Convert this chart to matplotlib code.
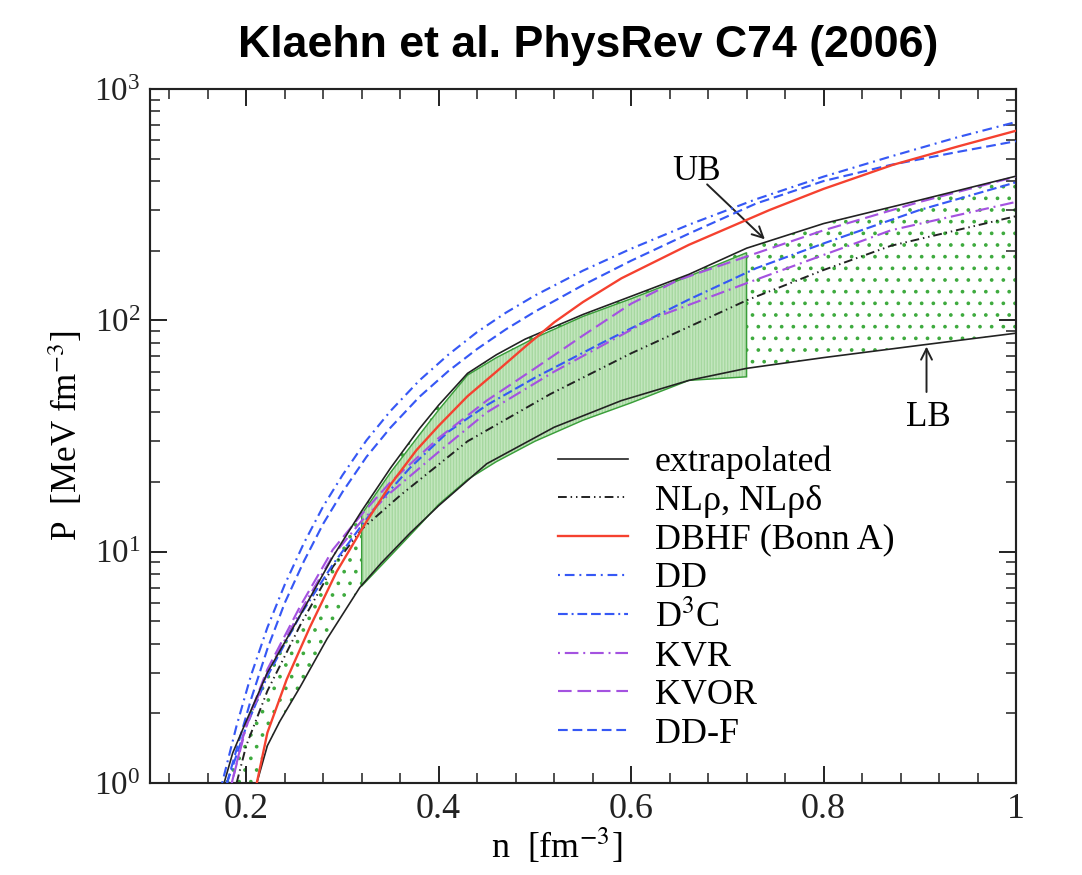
import numpy as np
import matplotlib
matplotlib.use('Agg')
import matplotlib.pyplot as plt
from matplotlib.ticker import MultipleLocator, FuncFormatter, LogLocator, NullFormatter

# data (n in fm^-3, P in MeV fm^-3)
ub_n = [0.177, 0.186, 0.20, 0.222, 0.256, 0.29, 0.32, 0.35, 0.38, 0.40, 0.43, 0.46, 0.49, 0.55, 0.60, 0.66, 0.72, 0.80, 0.90, 1.00]
ub_p = [1.0, 1.35, 1.85, 3.0, 5.3, 9.5, 15.0, 23, 34, 43, 59, 71, 83, 106, 127, 158, 205, 262, 331, 420]

lb_n = [0.211, 0.222, 0.235, 0.256, 0.284, 0.318, 0.34, 0.37, 0.40, 0.45, 0.52, 0.59, 0.66, 0.72, 0.80, 0.90, 1.00]
lb_p = [1.0, 1.45, 1.85, 2.6, 4.2, 7.0, 8.9, 12.0, 15.8, 24, 34.5, 45, 55, 62, 69, 78, 88]

flow_n = [0.32, 0.35, 0.38, 0.40, 0.43, 0.46, 0.50, 0.55, 0.60, 0.66, 0.72]
flow_lo = [7.1, 9.6, 13.0, 16.0, 20.5, 24.5, 30, 37, 44, 55, 57]
flow_hi = [14.5, 22, 32, 41, 58, 69, 84, 104, 124, 155, 196]

nl_n = [0.19, 0.20, 0.222, 0.256, 0.29, 0.32, 0.36, 0.43, 0.516, 0.60, 0.72, 0.80, 0.87, 1.00]
nl_p = [1, 1.45, 2.5, 4.8, 8.6, 12.5, 17.5, 30, 48, 72, 122, 165, 210, 282]

dbhf_n = [0.211, 0.222, 0.242, 0.266, 0.294, 0.325, 0.35, 0.377, 0.40, 0.43, 0.46, 0.49, 0.52, 0.55, 0.59, 0.66, 0.744, 0.80, 0.872, 0.94, 1.00]
dbhf_p = [1.0, 1.65, 2.8, 4.7, 8.2, 13.5, 19.5, 27.5, 35, 47, 60, 77, 98, 120, 152, 212, 300, 370, 470, 565, 660]

dd_n = [0.175, 0.19, 0.205, 0.222, 0.24, 0.26, 0.28, 0.30, 0.325, 0.35, 0.38, 0.41, 0.44, 0.47, 0.50, 0.55, 0.60, 0.66, 0.73, 0.80, 0.87, 0.94, 1.00]
dd_p = [1, 1.77, 2.92, 4.7, 7.2, 10.9, 15.7, 21.4, 30.3, 40.6, 55, 71, 89, 108, 128, 164, 204, 259, 334, 418, 511, 620, 720]

ddf_n = [0.18, 0.19, 0.205, 0.222, 0.24, 0.26, 0.28, 0.30, 0.325, 0.35, 0.38, 0.41, 0.44, 0.47, 0.50, 0.55, 0.60, 0.66, 0.73, 0.80, 0.87, 0.94, 1.00]
ddf_p = [1, 1.4, 2.3, 3.8, 6.0, 9.1, 13.2, 18.1, 25.7, 34.4, 46.7, 60.3, 75.2, 91.5, 109, 142, 181, 237, 320, 400, 470, 535, 595]

d3c_n = [0.18, 0.20, 0.222, 0.256, 0.29, 0.32, 0.342, 0.37, 0.41, 0.45, 0.50, 0.57, 0.66, 0.73, 0.80, 0.90, 1.00]
d3c_p = [1, 1.75, 2.9, 5.3, 8.8, 13.0, 17, 23, 33, 43, 56.5, 80, 123, 168, 215, 300, 395]

kvr_n = [0.185, 0.20, 0.222, 0.256, 0.29, 0.32, 0.35, 0.40, 0.45, 0.52, 0.62, 0.73, 0.87, 1.00]
kvr_p = [1, 1.75, 3.0, 5.5, 9.6, 13.6, 18, 27, 40, 60, 101, 150, 245, 325]

kvor_n = [0.185, 0.20, 0.222, 0.256, 0.29, 0.32, 0.35, 0.40, 0.45, 0.50, 0.55, 0.60, 0.65, 0.73, 0.80, 0.90, 1.00]
kvor_p = [1, 1.8, 3.1, 5.8, 10.2, 14.5, 20, 31, 45, 62, 86, 118, 150, 195, 245, 325, 418]

labels = ['extrapolated', 'NL\u03c1, NL\u03c1\u03b4', 'DBHF (Bonn A)', 'DD', 'D$^{3}$C', 'KVR', 'KVOR', 'DD-F']

# annotation positions (text, arrow tail, arrow tip)
ub_text, ub_tail, ub_tip = (0.668, 441), (0.679, 387), (0.739, 224)
lb_text, lb_tail, lb_tip = (0.909, 38), (0.907, 49), (0.907, 77)

plt.rcParams['font.family'] = ['Liberation Serif', 'DejaVu Serif']
plt.rcParams['mathtext.fontset'] = 'stix'
plt.rcParams['lines.scale_dashes'] = False
plt.rcParams['hatch.linewidth'] = 1.4

DPI = 70
fig = plt.figure(figsize=(1082 / DPI, 875 / DPI), dpi=DPI)
ax = fig.add_axes([150 / 1082, 92 / 875, 866 / 1082, 694 / 875])

blue = '#3658f5'
purple = '#a452e0'
red = '#f5412f'
dotgreen = '#3daa3d'

# dotted band between the extrapolated bounds
band_x = np.r_[ub_n, lb_n[::-1]]
band_y = np.r_[ub_p, lb_p[::-1]]
ax.fill(band_x, band_y, facecolor='none', edgecolor=dotgreen, hatch='.', linewidth=0, zorder=1)

# flow constraint region
ax.fill_between(flow_n, flow_lo, flow_hi, facecolor='#c3e6be', edgecolor='none', zorder=2)
ax.fill_between(flow_n, flow_lo, flow_hi, facecolor='none', edgecolor='#a6d8a0', hatch='||||', linewidth=0, zorder=2)
ax.fill(np.r_[flow_n, flow_n[::-1]], np.r_[flow_lo, flow_hi[::-1]], facecolor='none',
        edgecolor='#3a9e3a', linewidth=1.5, zorder=3)

ax.plot(ub_n, ub_p, color='#222222', lw=1.7, label=labels[0], zorder=5)
ax.plot(lb_n, lb_p, color='#222222', lw=1.7, zorder=5)
ax.plot(nl_n, nl_p, color='#222222', lw=2.0, ls=(0, (9, 4, 1.5, 4, 1.5, 4)), label=labels[1], zorder=4)
ax.plot(dbhf_n, dbhf_p, color=red, lw=2.4, label=labels[2], zorder=6)
ax.plot(dd_n, dd_p, color=blue, lw=2.2, ls=(0, (2, 5, 10, 5)), label=labels[3], zorder=4)
ax.plot(d3c_n, d3c_p, color=blue, lw=2.2, ls=(0, (10, 4, 2, 4, 10, 4, 10, 4)), label=labels[4], zorder=4)
ax.plot(kvr_n, kvr_p, color=purple, lw=2.2, ls=(0, (2, 5, 14, 5)), label=labels[5], zorder=4)
ax.plot(kvor_n, kvor_p, color=purple, lw=2.2, ls=(0, (14, 6)), label=labels[6], zorder=4)
ax.plot(ddf_n, ddf_p, color=blue, lw=2.2, ls=(0, (10, 5)), label=labels[7], zorder=4)

ax.set_yscale('log')
ax.set_xlim(0.1, 1.0)
ax.set_ylim(1, 1000)

ax.xaxis.set_major_locator(MultipleLocator(0.2))
ax.xaxis.set_minor_locator(MultipleLocator(0.04))
ax.xaxis.set_major_formatter(FuncFormatter(lambda v, p: '%g' % round(v, 2) if v > 0.15 else ''))
ax.yaxis.set_minor_locator(LogLocator(base=10, subs=range(2, 10)))
ax.yaxis.set_minor_formatter(NullFormatter())

ax.tick_params(which='both', direction='in', top=True, right=True, colors='#222222')
ax.tick_params(which='major', length=17, width=2, labelsize=37, pad=10)
ax.tick_params(which='minor', length=10, width=1.6)
ax.tick_params(axis='y', which='major', labelsize=34)
for s in ax.spines.values():
    s.set_linewidth(2.2)
    s.set_color('#222222')

ax.set_xlabel('n  [fm$^{-3}$]', fontsize=37)
ax.xaxis.set_label_coords(0.47, -0.063)
ax.set_ylabel('P  [MeV fm$^{-3}$]', fontsize=36, labelpad=10)

ax.text(*ub_text, 'UB', fontsize=36, ha='center', va='center')
ax.annotate('', xy=ub_tip, xytext=ub_tail,
            arrowprops=dict(arrowstyle='->', lw=2, color='#222222', mutation_scale=28, shrinkA=0, shrinkB=0))
ax.text(*lb_text, 'LB', fontsize=36, ha='center', va='center')
ax.annotate('', xy=lb_tip, xytext=lb_tail,
            arrowprops=dict(arrowstyle='->', lw=2, color='#222222', mutation_scale=28, shrinkA=0, shrinkB=0))

ax.legend(loc='upper left', bbox_to_anchor=(558 / 1082, 1 - 446 / 875), bbox_transform=fig.transFigure,
          frameon=False, fontsize=37, borderpad=0, borderaxespad=0, handlelength=1.94,
          handletextpad=0.75, labelspacing=0.15)

fig.text(588 / 1082, 1 - 45 / 875, 'Klaehn et al. PhysRev C74 (2006)', fontsize=46,
         fontweight='bold', family=['Liberation Sans', 'DejaVu Sans'], ha='center', va='center')

fig.savefig('out.png', dpi=DPI)
